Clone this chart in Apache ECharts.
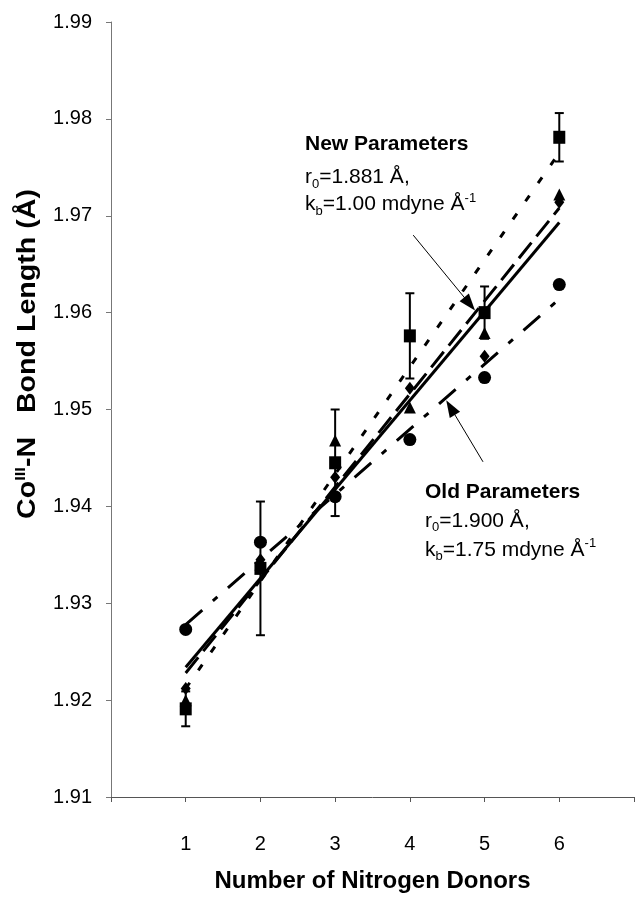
<!DOCTYPE html>
<html>
<head>
<meta charset="utf-8">
<script src="https://cdn.jsdelivr.net/npm/echarts@6/dist/echarts.min.js"></script>
<style>
html,body{margin:0;padding:0;background:#fff;}
#c{width:635px;height:899px;}
</style>
</head>
<body>
<div id="c"></div>
<script>
// ---- data ----
var donors = [1, 2, 3, 4, 5, 6];
var xTickLabels = ['1', '2', '3', '4', '5', '6'];
var squares   = [1.9191, 1.9336, 1.9445, 1.9576, 1.9600, 1.9781];
var squareErr = [0.0018, 0.0069, 0.0055, 0.0044, 0.0027, 0.0025];
var triangles = [1.9200, 1.9340, 1.9468, 1.9502, 1.9579, 1.9722];
var diamonds  = [1.9212, 1.9345, 1.9430, 1.9522, 1.9555, 1.9714];
var circles   = [1.9273, 1.9363, 1.9410, 1.9469, 1.9533, 1.9629];
// trend lines (value at x=1 and x=6)
var fitX        = [1, 6];
var fitSquares  = [1.9212, 1.9765];
var fitTriangles= [1.9228, 1.9708];
var fitDiamonds = [1.9234, 1.9693];
var fitCircles  = [1.9278, 1.9614];
// annotation arrows (data coordinates: tail, tip)
var newArrow = [[4.045, 1.9680], [4.80, 1.9609]];
var oldArrow = [[4.979, 1.9446], [4.545, 1.9502]];

var FONT = '"Liberation Sans", Arial, Helvetica, sans-serif';

function pairs(xs, ys) { return xs.map(function (x, i) { return [x, ys[i]]; }); }

var chart = echarts.init(document.getElementById('c'), null, {renderer: 'canvas'});

var richAnn = {
  n:   {fontSize: 21, fontFamily: FONT, lineHeight: 26, color: '#000'},
  b:   {fontSize: 21, fontFamily: FONT, fontWeight: 'bold', lineHeight: 26, color: '#000'},
  sub: {fontSize: 13, fontFamily: FONT, lineHeight: 13, verticalAlign: 'bottom', color: '#000'},
  sup: {fontSize: 13, fontFamily: FONT, lineHeight: 13, verticalAlign: 'top', color: '#000'}
};

function annText(x, y, txt) {
  return {
    type: 'text', x: x, y: y, silent: true,
    style: {text: txt, rich: richAnn, align: 'left', verticalAlign: 'middle', fill: '#000',
            font: '21px ' + FONT}
  };
}

function lineSeries(ys, dash) {
  return {
    type: 'line', data: pairs(fitX, ys), symbol: 'none', silent: true, z: 2,
    lineStyle: {color: '#000', width: 3, type: dash, cap: 'butt', opacity: 1}
  };
}

var option = {
  animation: false,
  backgroundColor: '#fff',
  grid: {left: 111, right: 1, top: 22, bottom: 102, containLabel: false, outerBoundsMode: 'none'},
  xAxis: {
    type: 'value', min: 0, max: 7, interval: 1,
    axisLine: {show: true, lineStyle: {color: '#555', width: 1}},
    axisTick: {show: true, length: 5, lineStyle: {color: '#555'}},
    splitLine: {show: false},
    axisLabel: {
      margin: 37, fontSize: 20, color: '#000', fontFamily: FONT,
      formatter: function (v) { var i = donors.indexOf(v); return i >= 0 ? xTickLabels[i] : ''; }
    },
    name: 'Number of Nitrogen Donors', nameLocation: 'middle', nameGap: 72,
    nameTextStyle: {fontSize: 24, fontWeight: 'bold', color: '#000', fontFamily: FONT}
  },
  yAxis: {
    type: 'value', min: 1.91, max: 1.99, interval: 0.01,
    axisLine: {show: true, lineStyle: {color: '#777', width: 1}},
    axisTick: {show: true, length: 5, lineStyle: {color: '#777'}},
    splitLine: {show: false},
    axisLabel: {margin: 19, fontSize: 20, color: '#000', fontFamily: FONT,
      formatter: function (v) { return v.toFixed(2); }}
  },
  graphic: [
    {
      type: 'text', x: 28, y: 354, rotation: Math.PI / 2, scaleX: 1.1, silent: true,
      style: {
        text: '{b|Co}{s|III}{b|-N   Bond Length (Å)}',
        rich: {
          b: {fontSize: 26, fontWeight: 'bold', fontFamily: FONT, lineHeight: 30, color: '#000'},
          s: {fontSize: 15, fontWeight: 'bold', fontFamily: FONT, lineHeight: 15, verticalAlign: 'top', color: '#000'}
        },
        align: 'center', verticalAlign: 'middle', fill: '#000'
      }
    },
    annText(305, 144.5, '{b|New Parameters}'),
    annText(305, 177.5, '{n|r}{sub|0}{n|=1.881 Å,}'),
    annText(305, 204.5, '{n|k}{sub|b}{n|=1.00 mdyne Å}{sup|-1}'),
    annText(425, 492, '{b|Old Parameters}'),
    annText(425, 521, '{n|r}{sub|0}{n|=1.900 Å,}'),
    annText(425, 550, '{n|k}{sub|b}{n|=1.75 mdyne Å}{sup|-1}')
  ],
  series: [
    lineSeries(fitSquares, [7, 15]),
    lineSeries(fitTriangles, [20, 8]),
    lineSeries(fitDiamonds, 'solid'),
    lineSeries(fitCircles, [22, 14, 6, 14]),
    {
      type: 'scatter', data: pairs(donors, circles), symbol: 'circle', symbolSize: 13,
      itemStyle: {color: '#000', opacity: 1}, silent: true, z: 3
    },
    {
      type: 'scatter', data: pairs(donors, diamonds), symbol: 'diamond', symbolSize: [10, 13],
      itemStyle: {color: '#000', opacity: 1}, silent: true, z: 3
    },
    {
      type: 'scatter', data: pairs(donors, triangles), symbol: 'triangle', symbolSize: 12,
      itemStyle: {color: '#000', opacity: 1}, silent: true, z: 3
    },
    {
      type: 'custom', silent: true, z: 4,
      data: donors.map(function (x, i) { return [x, squares[i], squareErr[i]]; }),
      renderItem: function (params, api) {
        var x = api.value(0), y = api.value(1), e = api.value(2);
        var top = api.coord([x, y + e]);
        var bot = api.coord([x, y - e]);
        var hw = 4.5;
        var st = {stroke: '#000', lineWidth: 2};
        return {
          type: 'group',
          children: [
            {type: 'line', shape: {x1: top[0], y1: top[1], x2: bot[0], y2: bot[1]}, style: st},
            {type: 'line', shape: {x1: top[0] - hw, y1: top[1], x2: top[0] + hw, y2: top[1]}, style: st},
            {type: 'line', shape: {x1: bot[0] - hw, y1: bot[1], x2: bot[0] + hw, y2: bot[1]}, style: st}
          ]
        };
      },
      encode: {x: 0, y: 1}
    },
    {
      type: 'scatter', data: pairs(donors, squares), symbol: 'rect', symbolSize: [12, 13],
      itemStyle: {color: '#000', opacity: 1}, silent: true, z: 5,
      markLine: {
        silent: true, animation: false,
        symbol: ['none', 'triangle'], symbolSize: [12, 17],
        label: {show: false},
        lineStyle: {color: '#000', width: 1, type: 'solid', opacity: 1},
        itemStyle: {color: '#000'},
        emphasis: {disabled: true},
        data: [
          [{coord: newArrow[0]}, {coord: newArrow[1]}],
          [{coord: oldArrow[0]}, {coord: oldArrow[1]}]
        ]
      }
    }
  ]
};
chart.setOption(option);
</script>
</body>
</html>
